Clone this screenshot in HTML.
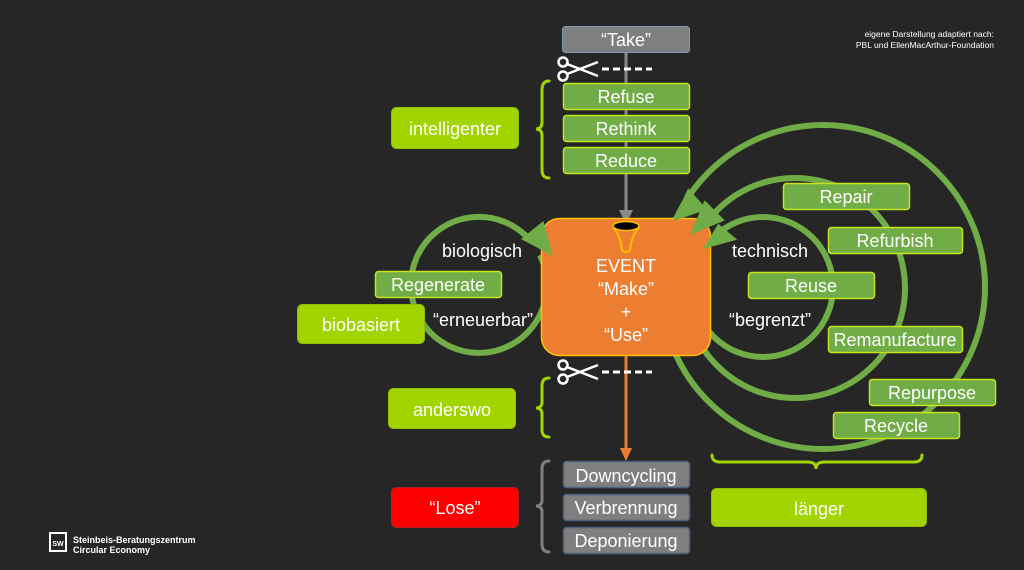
<!DOCTYPE html>
<html><head><meta charset="utf-8"><style>
html,body{margin:0;padding:0;background:#262626;}
svg{display:block;}
text{font-family:"Liberation Sans","DejaVu Sans",sans-serif;fill:#fff;}
</style></head><body>
<svg width="1024" height="570" viewBox="0 0 1024 570" xmlns="http://www.w3.org/2000/svg">
<rect width="1024" height="570" fill="#262626"/>

<text x="994" y="37" font-size="8.5" text-anchor="end" fill="#ddd">eigene Darstellung adaptiert nach:</text>
<text x="994" y="48" font-size="8.5" text-anchor="end" fill="#ddd">PBL und EllenMacArthur-Foundation</text>

<g fill="none" stroke="#70ad47" stroke-width="6">
<circle cx="823" cy="287" r="162"/>
<circle cx="795" cy="288" r="110"/>
<circle cx="763" cy="287" r="70"/>
<path d="M 540 255 A 68 68 0 1 1 530 240"/>
</g>

<line x1="626" y1="52" x2="626" y2="212" stroke="#8a8a8a" stroke-width="3"/>
<path d="M619,210 L633,210 L626,224 Z" fill="#8a8a8a"/>

<rect x="562.5" y="26.5" width="127" height="26" rx="3" fill="#7f7f7f" stroke="#8496b0"/>
<text x="626" y="46" font-size="18" text-anchor="middle">“Take”</text>

<g stroke="#fff" stroke-width="2.5" fill="none">
<circle cx="563" cy="62" r="4.5"/><circle cx="563" cy="76" r="4.5"/>
<line x1="567" y1="64" x2="598" y2="76"/><line x1="567" y1="74" x2="598" y2="62"/>
</g>
<line x1="602" y1="69" x2="652" y2="69" stroke="#fff" stroke-width="3" stroke-dasharray="7,4"/>

<g stroke="#c8e21e" stroke-width="1.5" fill="#70ad47">
<rect x="563.5" y="83.5" width="126" height="26" rx="3"/>
<rect x="563.5" y="115.5" width="126" height="26" rx="3"/>
<rect x="563.5" y="147.5" width="126" height="26" rx="3"/>
</g>
<text x="626" y="103" font-size="18" text-anchor="middle">Refuse</text>
<text x="626" y="135" font-size="18" text-anchor="middle">Rethink</text>
<text x="626" y="167" font-size="18" text-anchor="middle">Reduce</text>

<g fill="none" stroke-width="3" stroke-linecap="round">
<path d="M549,81 Q542,81 542,90 L542,122 Q542,129 536,129 Q542,129 542,136 L542,170 Q542,178 549,178" stroke="#a2d400"/>
<path d="M549,378 Q542,378 542,386 L542,402 Q542,408 536,408 Q542,408 542,414 L542,430 Q542,437 549,437" stroke="#a2d400"/>
<path d="M549,461 Q542,461 542,469 L542,500 Q542,506 536,506 Q542,506 542,512 L542,544 Q542,552 549,552" stroke="#808080"/>
<path d="M712,455 Q712,462 720,462 L808,462 Q816,462 816,469 Q816,462 824,462 L914,462 Q922,462 922,455" stroke="#a2d400"/>
</g>

<g fill="#a2d400" stroke="#8fbf00">
<rect x="391.5" y="107.5" width="127" height="41" rx="5"/>
<rect x="297.5" y="304.5" width="127" height="39" rx="5"/>
<rect x="388.5" y="388.5" width="127" height="40" rx="5"/>
<rect x="711.5" y="488.5" width="215" height="38" rx="5"/>
</g>
<text x="455" y="135" font-size="18" text-anchor="middle">intelligenter</text>
<text x="361" y="331" font-size="18" text-anchor="middle">biobasiert</text>
<text x="452" y="416" font-size="18" text-anchor="middle">anderswo</text>
<text x="819" y="515" font-size="18" text-anchor="middle">länger</text>

<rect x="541.5" y="218.5" width="169" height="137" rx="18" fill="#ed7d31" stroke="#ffc000" stroke-width="1.5"/>
<path d="M613,227 Q621,237 622,250 Q626,254 630,250 Q631,237 639,227" fill="none" stroke="#ffc000" stroke-width="2"/>
<ellipse cx="626" cy="226" rx="13" ry="4.5" fill="#000" stroke="#ffc000" stroke-width="1.5"/>
<text x="626" y="272" font-size="18" text-anchor="middle">EVENT</text>
<text x="626" y="295" font-size="18" text-anchor="middle">“Make”</text>
<text x="626" y="318" font-size="18" text-anchor="middle">+</text>
<text x="626" y="341" font-size="18" text-anchor="middle">“Use”</text>

<g fill="#70ad47">
<polygon points="673,221 707.2,209.6 688.2,188.2"/>
<polygon points="690,235 724.8,220.4 704.6,200.2"/>
<polygon points="703,249 737.2,239.6 718.2,223.8"/>
<polygon points="553,256 543.4,221 521,239"/>
</g>

<line x1="626" y1="356" x2="626" y2="450" stroke="#ed7d31" stroke-width="3"/>
<path d="M620,448 L632,448 L626,461 Z" fill="#ed7d31"/>

<g stroke="#fff" stroke-width="2.5" fill="none">
<circle cx="563" cy="365" r="4.5"/><circle cx="563" cy="379" r="4.5"/>
<line x1="567" y1="367" x2="598" y2="379"/><line x1="567" y1="377" x2="598" y2="365"/>
</g>
<line x1="602" y1="372" x2="652" y2="372" stroke="#fff" stroke-width="3" stroke-dasharray="7,4"/>

<text x="482" y="257" font-size="18" text-anchor="middle">biologisch</text>
<rect x="375.5" y="271.5" width="126" height="26" rx="3" fill="#70ad47" stroke="#c8e21e" stroke-width="1.5"/>
<text x="438" y="291" font-size="18" text-anchor="middle">Regenerate</text>
<text x="483" y="326" font-size="18" text-anchor="middle">“erneuerbar”</text>

<text x="770" y="257" font-size="18" text-anchor="middle">technisch</text>
<text x="770" y="326" font-size="18" text-anchor="middle">“begrenzt”</text>
<g stroke="#c8e21e" stroke-width="1.5" fill="#70ad47">
<rect x="783.5" y="183.5" width="126" height="26" rx="3"/>
<rect x="828.5" y="227.5" width="134" height="26" rx="3"/>
<rect x="748.5" y="272.5" width="126" height="26" rx="3"/>
<rect x="828.5" y="326.5" width="134" height="26" rx="3"/>
<rect x="869.5" y="379.5" width="126" height="26" rx="3"/>
<rect x="833.5" y="412.5" width="126" height="26" rx="3"/>
</g>
<text x="846" y="203" font-size="18" text-anchor="middle">Repair</text>
<text x="895" y="247" font-size="18" text-anchor="middle">Refurbish</text>
<text x="811" y="292" font-size="18" text-anchor="middle">Reuse</text>
<text x="895" y="346" font-size="18" text-anchor="middle">Remanufacture</text>
<text x="932" y="399" font-size="18" text-anchor="middle">Repurpose</text>
<text x="896" y="432" font-size="18" text-anchor="middle">Recycle</text>

<rect x="391.5" y="487.5" width="127" height="40" rx="5" fill="#ff0000" stroke="#b02020"/>
<text x="455" y="514" font-size="18" text-anchor="middle">“Lose”</text>
<g fill="#7f7f7f" stroke="#4f6080" stroke-width="1.5">
<rect x="563.5" y="461.5" width="126" height="26" rx="3"/>
<rect x="563.5" y="494.5" width="126" height="26" rx="3"/>
<rect x="563.5" y="527.5" width="126" height="26" rx="3"/>
</g>
<text x="626" y="482" font-size="18" text-anchor="middle">Downcycling</text>
<text x="626" y="514" font-size="18" text-anchor="middle">Verbrennung</text>
<text x="626" y="547" font-size="18" text-anchor="middle">Deponierung</text>

<rect x="50" y="533" width="16" height="18" fill="none" stroke="#fff" stroke-width="2"/>
<text x="58" y="546" font-size="7" text-anchor="middle" font-weight="bold">SW</text>
<text x="73" y="543" font-size="9" font-weight="bold">Steinbeis-Beratungszentrum</text>
<text x="73" y="553" font-size="9" font-weight="bold">Circular Economy</text>
</svg>
</body></html>
